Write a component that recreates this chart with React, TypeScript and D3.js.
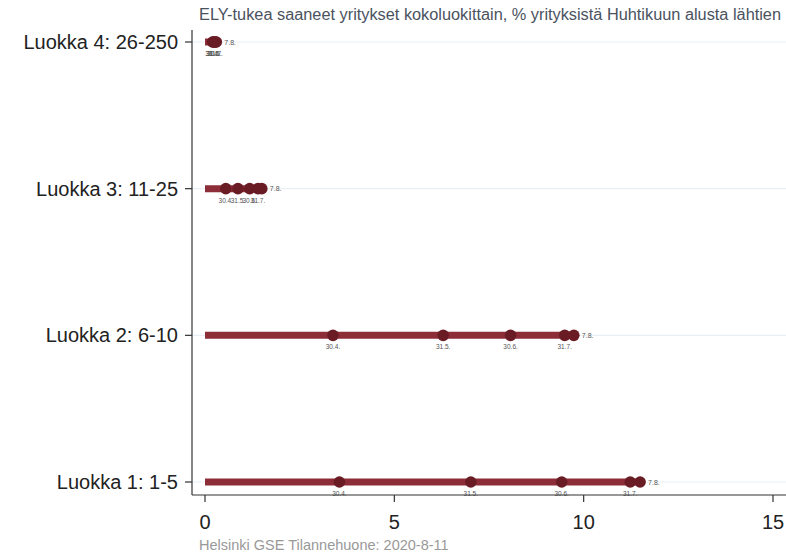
import React from "react";
import * as d3 from "d3";

const categories = ["Luokka 4: 26-250", "Luokka 3: 11-25", "Luokka 2: 6-10", "Luokka 1: 1-5"];
const dateLabels = ["30.4.", "31.5.", "30.6.", "31.7.", "7.8."];
const luokka4 = [0.2, 0.22, 0.25, 0.28, 0.3];
const luokka3 = [0.55, 0.87, 1.18, 1.4, 1.5];
const luokka2 = [3.38, 6.29, 8.07, 9.5, 9.74];
const luokka1 = [3.55, 7.02, 9.42, 11.23, 11.49];
const seriesValues = [luokka4, luokka3, luokka2, luokka1];
const xTicks = [0, 5, 10, 15];
const title = "ELY-tukea saaneet yritykset kokoluokittain, % yrityksistä Huhtikuun alusta lähtien";
const footer = "Helsinki GSE Tilannehuone: 2020-8-11";

const W = 786;
const H = 553;
const FONT = "'Liberation Sans', Arial, sans-serif";

export default function App() {
  const x = d3.scaleLinear().domain([0, 15]).range([205, 773]);
  const y = d3.scalePoint<string>().domain(categories).range([42, 482]);
  const axisX = 192;
  const axisY = 495;
  const barColor = "#8c2d37";
  const dotColor = "#6a1c25";

  return (
    <svg width={W} height={H} style={{ position: "absolute", left: 0, top: 0, background: "#fff" }}>
      <rect x={0} y={0} width={W} height={H} fill="#fff" />
      <text x={199} y={20} fontFamily={FONT} fontSize={16} fill="#4a5260" textLength={582} lengthAdjust="spacingAndGlyphs">{title}</text>
      {categories.map((c) => (
        <line key={"g" + c} x1={axisX} x2={W} y1={y(c)} y2={y(c)} stroke="#eaeff3" strokeWidth={1.2} />
      ))}
      {categories.map((c, i) => {
        const vals = seriesValues[i];
        const cy = y(c)!;
        const last = vals[vals.length - 1];
        return (
          <g key={"s" + c}>
            <line x1={x(0)} x2={x(last)} y1={cy} y2={cy} stroke={barColor} strokeWidth={7} />
            {vals.map((v, j) => (
              <circle key={j} cx={x(v)} cy={cy} r={5.8} fill={dotColor} />
            ))}
            {vals.slice(0, 4).map((v, j) => (
              <text key={"l" + j} x={x(v)} y={cy + 14} fontFamily={FONT} fontSize={6.5} fill="#555" textAnchor="middle">
                {dateLabels[j]}
              </text>
            ))}
            <text x={x(last) + 8} y={cy + 2.5} fontFamily={FONT} fontSize={7} fill="#555">
              {dateLabels[4]}
            </text>
          </g>
        );
      })}
      <line x1={axisX} x2={axisX} y1={30} y2={axisY} stroke="#333" strokeWidth={1.2} />
      <line x1={axisX} x2={W} y1={axisY} y2={axisY} stroke="#333" strokeWidth={1.2} />
      {categories.map((c) => (
        <g key={"t" + c}>
          <line x1={axisX - 7} x2={axisX} y1={y(c)} y2={y(c)} stroke="#333" strokeWidth={1.2} />
          <text x={axisX - 14} y={y(c)! + 7} fontFamily={FONT} fontSize={20} fill="#222" textAnchor="end">{c}</text>
        </g>
      ))}
      {xTicks.map((t) => (
        <g key={"x" + t}>
          <line x1={x(t)} x2={x(t)} y1={axisY} y2={axisY + 7} stroke="#333" strokeWidth={1.2} />
          <text x={x(t)} y={axisY + 34} fontFamily={FONT} fontSize={20} fill="#222" textAnchor="middle">{t}</text>
        </g>
      ))}
      <text x={199} y={550} fontFamily={FONT} fontSize={14.5} fill="#999">{footer}</text>
    </svg>
  );
}
